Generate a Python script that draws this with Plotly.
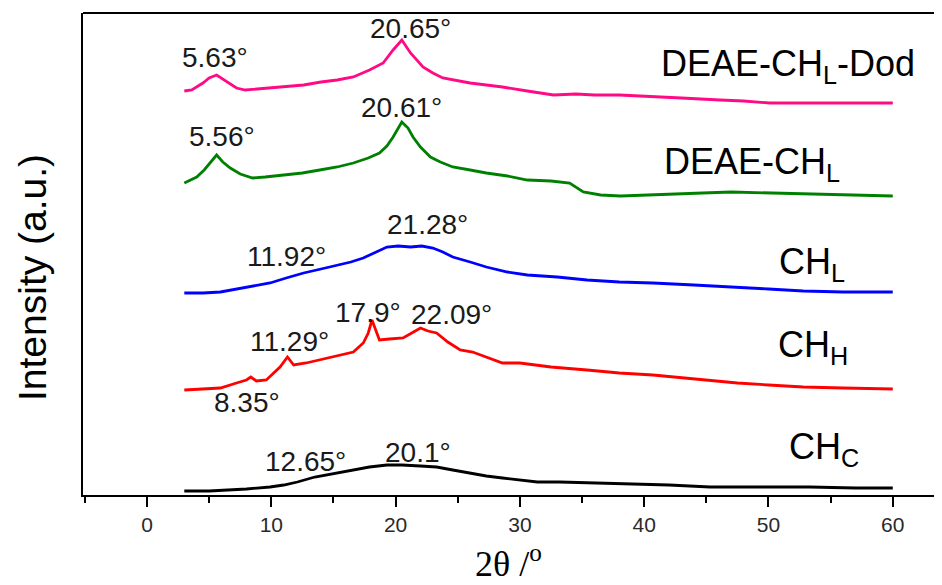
import plotly.graph_objects as go

# ---------------- data (2θ in degrees, intensity in arbitrary units, offset stacked) ----------------
dod_x = [3, 3.6, 4.5, 5.0, 5.6, 6.1, 6.5, 7.2, 7.9, 8.8, 9.9, 11.0, 12.6, 14.0, 15.3, 16.6, 17.9, 19.0, 19.8, 20.5,
         21.2, 22.2, 23.0, 23.8, 25.0, 26.0, 27.3, 28.6, 30.6, 32.7, 34.5, 36.0, 38.0, 40.2, 43.0, 46.1, 48.0, 50.1, 55.0, 60.0]
dod_y = [404, 405, 412, 417, 420, 416, 413, 407, 405, 406, 407, 408, 410, 413, 415, 418, 425, 432, 445, 455,
         442, 428, 422, 417, 414, 412, 410, 408, 404, 400, 401, 400, 400, 399, 397, 395, 394, 392, 392, 392]

deae_x = [3, 3.5, 4, 4.6, 5.1, 5.6, 6.1, 6.7, 7.5, 8.5, 9.5, 11.2, 12.5, 13.9, 15.3, 16.6, 17.8, 18.7, 19.3, 19.8,
          20.5, 21.0, 21.4, 22.0, 22.8, 23.6, 24.6, 26.0, 27.3, 29.0, 30.6, 32.5, 34.0, 35.1, 36.5, 38.1, 41.0, 44.7,
          47.0, 50.1, 53.0, 56.8, 60.0]
deae_y = [312, 315, 318, 325, 332, 340, 333, 327, 321, 317, 318, 320, 322, 325, 328, 332, 337, 342, 349, 358,
          373, 367, 358, 348, 338, 333, 328, 325, 322, 319, 315, 314, 312, 303, 300, 299, 300, 302,
          303, 302, 301, 300, 299]

chl_x = [3, 4.5, 5.9, 7.2, 8.5, 9.9, 11.2, 12.6, 14.0, 15.3, 16.4, 17.4, 18.4, 19.3, 20.2, 21.2, 22.1, 23.0, 23.8,
         24.6, 26.0, 27.3, 29.0, 30.6, 33.0, 35.4, 38.0, 40.7, 44.0, 47.5, 50.0, 52.8, 56.0, 60.0]
chl_y = [202, 202, 203, 206, 209, 212, 217, 222, 226, 230, 233, 237, 243, 248, 249, 248, 249, 247, 243,
         238, 233, 228, 223, 220, 218, 215, 213, 212, 210, 208, 206, 204, 203, 203]

chh_x = [3, 4.5, 5.9, 7.2, 8.0, 8.35, 8.8, 9.6, 10.2, 10.7, 11.3, 11.8, 12.8, 13.9, 15.2, 16.6, 17.4, 17.8, 18.1,
         18.4, 18.7, 19.5, 20.6, 21.3, 22.0, 22.6, 23.3, 24.2, 25.2, 26.2, 27.3, 28.6, 30.0, 32.5, 35.4, 38.0, 40.7,
         44.0, 47.5, 50.0, 52.8, 56.0, 60.0]
chh_y = [105, 106, 107, 112, 115, 118, 114, 115, 122, 128, 138, 130, 132, 135, 139, 143, 152, 162, 175,
         165, 155, 156, 157, 162, 167, 164, 162, 153, 145, 143, 138, 132, 132, 128, 125, 122, 120,
         116, 112, 110, 108, 107, 106]

chc_x = [3, 5, 8, 9.9, 11.0, 12.1, 13.5, 15.3, 16.7, 17.9, 19.3, 20.5, 22.0, 23.3, 24.6, 26.0, 27.3, 28.6, 30.0,
         31.4, 33.2, 36.0, 38.6, 42.0, 45.3, 50.0, 53.3, 57.0, 60.0]
chc_y = [4, 4, 6, 8, 10, 13, 18, 22, 25, 28, 30, 30, 29, 28, 25, 22, 19, 17, 15,
         13, 13, 12, 11, 10, 8, 8, 8, 7, 7]

series_names = ["DEAE-CH<sub>L</sub>-Dod", "DEAE-CH<sub>L</sub>", "CH<sub>L</sub>", "CH<sub>H</sub>", "CH<sub>C</sub>"]
series_x = [dod_x, deae_x, chl_x, chh_x, chc_x]
series_y = [dod_y, deae_y, chl_y, chh_y, chc_y]
series_colors = ["#ff0a84", "#008000", "#0000ff", "#ff0000", "#000000"]
name_pos_x = [41.2, 41.4, 50.7, 50.6, 51.5]
name_pos_y = [429, 331, 231, 148, 46]

peak_labels = ["5.63°", "20.65°", "5.56°", "20.61°", "11.92°", "21.28°", "8.35°", "11.29°", "17.9°", "22.09°",
               "12.65°", "20.1°"]
peak_lx = [5.47, 21.16, 6.03, 20.51, 11.26, 22.53, 8.05, 11.5, 17.78, 24.46, 12.79, 21.8]
peak_ly = [438, 467, 359, 388, 239, 271, 93, 154, 183, 181, 34, 43]

x_ticks = [0, 10, 20, 30, 40, 50, 60]

# ---------------- figure ----------------
fig = go.Figure()
for xs, ys, c in zip(series_x, series_y, series_colors):
    fig.add_trace(go.Scatter(x=xs, y=ys, mode="lines", line=dict(color=c, width=2.8),
                             showlegend=False, hoverinfo="skip"))

ann = []
for t, x, y in zip(series_names, name_pos_x, name_pos_y):
    ann.append(dict(x=x, y=y, xref="x", yref="y", text=t, showarrow=False, xanchor="left", yanchor="middle",
                    font=dict(family="Liberation Sans, Arial", size=36, color="#000")))
for t, x, y in zip(peak_labels, peak_lx, peak_ly):
    ann.append(dict(x=x, y=y, xref="x", yref="y", text=t, showarrow=False, xanchor="center", yanchor="middle",
                    font=dict(family="Liberation Sans, Arial", size=28, color="#1a1a1a")))

# page-pixel geometry (the page body adds an 8 px offset)
OFF = 8
PW, PH = 942, 585
L, T, B = 83, 13, 495  # plot-area edges in page pixels
W, H = PW - OFF, PH - OFF


def to_paper(px, py):
    return (px - L) / (PW - L), (B - py) / (B - T)


xt, yt = to_paper(508, 561)
ann.append(dict(x=xt, y=yt, xref="paper", yref="paper", text="2θ /<sup>o</sup>", showarrow=False,
                xanchor="center", yanchor="middle",
                font=dict(family="Liberation Serif, Times New Roman", size=36, color="#000")))
xt, yt = to_paper(32, 278)
ann.append(dict(x=xt, y=yt, xref="paper", yref="paper", text="Intensity (a.u.)", showarrow=False,
                xanchor="center", yanchor="middle",
                textangle=-90, font=dict(family="Liberation Sans, Arial", size=39, color="#000")))

fig.update_layout(
    width=W, height=H,
    margin=dict(l=L - OFF, r=0, t=T - OFF, b=PH - B),
    plot_bgcolor="white", paper_bgcolor="white",
    annotations=ann,
    xaxis=dict(range=[-5.15, 63.96], tickvals=x_ticks, ticks="outside", ticklen=10, tickwidth=2,
               tickcolor="#000", showline=True, linecolor="#000", linewidth=2, mirror=False,
               showgrid=False, zeroline=False,
               tickfont=dict(family="Liberation Sans, Arial", size=21, color="#2a2a2a"),
               minor=dict(tickvals=[-5, 5, 15, 25, 35, 45, 55], ticks="outside", ticklen=6, tickwidth=2,
                          tickcolor="#000")),
    yaxis=dict(range=[0, 482], showticklabels=False, ticks="", showline=True, linecolor="#000", linewidth=2,
               showgrid=False, zeroline=False),
    shapes=[dict(type="line", xref="paper", yref="paper", x0=0, x1=1, y0=1, y1=1,
                 line=dict(color="#000", width=2))],
)

fig.write_html("out.html")
